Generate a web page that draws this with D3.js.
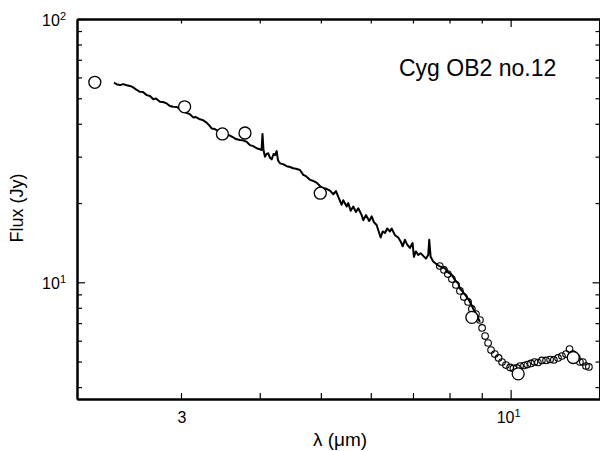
<!DOCTYPE html>
<html>
<head>
<meta charset="utf-8">
<script src="https://cdn.jsdelivr.net/npm/d3@7"></script>
<style>
  body { margin: 0; background: #fff; }
  svg text { font-family: "Liberation Sans", Arial, Helvetica, sans-serif; fill: #000; }
</style>
</head>
<body>
<div id="chart"></div>
<script>
// spectrum (solid line), wavelength in micron, flux in Jy
const lineWave = [2.349,2.375,2.401,2.428,2.461,2.490,2.520,2.545,2.583,2.611,2.647,2.679,2.711,2.738,2.778,2.809,2.847,2.881,2.916,2.956,
  2.989,3.022,3.062,3.099,3.137,3.168,3.215,3.250,3.294,3.322,3.355,3.396,3.433,3.458,3.496,3.544,3.587,3.631,3.667,3.721,
  3.762,3.813,3.859,3.906,3.955,3.989,4.026,4.040,4.055,4.077,4.100,4.127,4.152,4.178,4.206,4.229,4.255,4.275,4.306,4.354,
  4.413,4.467,4.521,4.566,4.633,4.689,4.736,4.805,4.858,4.924,4.984,5.044,5.113,5.169,
  5.232,5.284,5.329,5.395,5.426,5.494,5.527,5.575,5.628,5.684,5.732,5.804,5.838,5.895,5.967,6.020,6.071,6.130,6.166,6.221,
  6.266,6.319,6.372,6.435,6.475,6.554,6.633,6.692,6.741,6.797,6.854,6.922,6.990,7.024,7.075,7.136,7.199,7.267,7.339,7.401,
  7.428,7.466,7.537,7.631,7.724,7.867,7.961,8.061,8.159,8.258,
  8.307,8.399,8.513,8.585,8.670,8.727,8.775,8.840,8.882,8.937];
const lineFlux = [57.3,56.4,56.1,56.6,56.0,55.7,55.0,54.0,52.9,52.8,51.4,51.0,49.6,49.9,48.5,48.4,47.8,46.7,46.4,46.3,
  45.4,44.7,44.0,43.5,42.3,42.4,41.6,41.3,40.4,39.6,38.4,38.2,37.6,37.0,36.9,36.3,36.1,35.5,35.0,34.7,
  34.6,34.2,33.2,32.9,32.3,32.1,31.8,36.6,31.8,30.0,30.7,30.9,29.7,29.3,30.7,30.4,31.5,29.1,28.3,28.1,
  27.6,27.4,27.1,27.0,26.7,25.6,25.3,24.5,24.3,23.9,23.2,22.8,22.6,22.3,
  21.6,22.2,21.1,19.7,20.5,19.4,20.0,18.7,19.4,18.5,19.1,18.0,17.2,18.0,17.1,17.8,16.9,16.5,15.8,14.8,
  15.6,15.4,16.0,15.6,16.0,15.1,14.8,14.3,13.7,14.5,13.9,13.5,14.1,12.5,13.1,12.7,12.9,12.6,12.3,12.7,
  14.5,12.5,12.0,11.7,11.5,11.3,10.9,10.7,10.2,9.91,
  9.49,9.19,8.82,8.57,8.20,7.92,7.73,7.51,7.30,7.07];

// mid-IR spectrum samples (small open circles)
const sampWave = [7.72,7.84,7.95,8.07,8.19,8.31,8.43,8.56,8.68,8.81,8.94,9.01,9.11,9.21,9.31,9.44,9.57,9.69,9.83,9.98,
  10.10,10.23,10.35,10.50,10.63,10.77,10.91,11.05,11.21,11.38,11.55,11.71,11.89,12.06,12.24,12.40,12.56,12.74,12.88,13.02,
  13.17,13.31];
const sampFlux = [11.53,11.14,10.75,10.29,9.77,9.27,8.79,8.42,7.92,7.58,7.19,6.71,6.25,5.88,5.53,5.34,5.16,4.98,4.85,4.75,
  4.71,4.73,4.81,4.83,4.87,4.92,4.98,4.96,5.05,5.05,5.09,5.07,5.16,5.25,5.34,5.58,5.34,5.16,4.98,4.98,
  4.81,4.77];

// photometry (large open circles)
const photWave = [2.19,3.04,3.49,3.79,4.99,8.68,10.28,12.57];
const photFlux = [57.5,46.4,36.6,36.9,21.8,7.36,4.49,5.18];

const xMinor = [3,4,5,6,7,8,9];
const xMajor = [10];
const yMinor = [4,5,6,7,8,9,20,30,40,50,60,70,80,90];
const yMajor = [10,100];
const xLabels = [{v: 3, base: "3", sup: ""}, {v: 10, base: "10", sup: "1"}];
const yLabels = [{v: 100, base: "10", sup: "2"}, {v: 10, base: "10", sup: "1"}];

const W = 600, H = 451;
const L = 77, T = 19, R = 600, B = 399;

const svg = d3.select("#chart").append("svg")
  .attr("width", W).attr("height", H);

const x = d3.scaleLog().domain([2.052, 13.86]).range([L, R]);
const y = d3.scaleLog().domain([3.604, 100]).range([B, T]);

// axes, ticks pointing inward
function styleAxis(g) {
  g.selectAll(".domain").attr("stroke", "#000").attr("stroke-width", 2);
  g.selectAll(".tick line").attr("stroke", "#000").attr("stroke-width", 1.2);
  g.selectAll(".tick text").remove();
}
svg.append("g").attr("transform", `translate(0,${B})`)
  .call(d3.axisBottom(x).tickValues(xMinor).tickSize(-6).tickSizeOuter(0)).call(styleAxis);
svg.append("g").attr("transform", `translate(0,${B})`)
  .call(d3.axisBottom(x).tickValues(xMajor).tickSize(-9).tickSizeOuter(0)).call(styleAxis);
svg.append("g").attr("transform", `translate(0,${T})`)
  .call(d3.axisTop(x).tickValues(xMinor).tickSize(-4.5).tickSizeOuter(0)).call(styleAxis);
svg.append("g").attr("transform", `translate(0,${T})`)
  .call(d3.axisTop(x).tickValues(xMajor).tickSize(-8).tickSizeOuter(0)).call(styleAxis);
svg.append("g").attr("transform", `translate(${L},0)`)
  .call(d3.axisLeft(y).tickValues(yMinor).tickSize(-5).tickSizeOuter(0)).call(styleAxis);
svg.append("g").attr("transform", `translate(${L},0)`)
  .call(d3.axisLeft(y).tickValues(yMajor).tickSize(-8).tickSizeOuter(0)).call(styleAxis);
svg.append("g").attr("transform", `translate(${R - 0.5},0)`)
  .call(d3.axisRight(y).tickValues(yMinor).tickSize(-4).tickSizeOuter(0)).call(styleAxis);
svg.append("g").attr("transform", `translate(${R - 0.5},0)`)
  .call(d3.axisRight(y).tickValues(yMajor).tickSize(-7).tickSizeOuter(0)).call(styleAxis);

// tick labels with superscripts
xLabels.forEach(function(d) {
  const t = svg.append("text")
    .attr("x", x(d.v) + (d.sup ? -2 : 1)).attr("y", 423)
    .attr("text-anchor", "middle").style("font-size", "16px");
  t.append("tspan").text(d.base);
  if (d.sup) t.append("tspan").attr("dy", -6).style("font-size", "11px").text(d.sup);
});
yLabels.forEach(function(d) {
  const t = svg.append("text")
    .attr("x", 66).attr("y", y(d.v) + 7)
    .attr("text-anchor", "end").style("font-size", "16px");
  t.append("tspan").text(d.base);
  t.append("tspan").attr("dy", -6).style("font-size", "11px").text(d.sup);
});

// axis titles
svg.append("text")
  .attr("transform", "translate(23,208) rotate(-90)")
  .attr("text-anchor", "middle").style("font-size", "18px")
  .text("Flux (Jy)");
svg.append("text")
  .attr("x", 340).attr("y", 446)
  .attr("text-anchor", "middle").style("font-size", "19px")
  .text("λ (μm)");

svg.append("text")
  .attr("x", 399).attr("y", 76)
  .style("font-size", "23px")
  .text("Cyg OB2 no.12");

// small circles (under the line)
svg.append("g").selectAll("circle")
  .data(sampWave.map((w, i) => [w, sampFlux[i]]))
  .enter().append("circle")
  .attr("cx", d => x(d[0])).attr("cy", d => y(d[1]))
  .attr("r", 3.3)
  .attr("fill", "none").attr("stroke", "#000").attr("stroke-width", 1.1);

// spectrum line
const lineData = lineWave.map((w, i) => [w, lineFlux[i]]);
svg.append("path")
  .datum(lineData)
  .attr("fill", "none")
  .attr("stroke", "#000")
  .attr("stroke-width", 2)
  .attr("stroke-linejoin", "round")
  .attr("d", d3.line().x(d => x(d[0])).y(d => y(d[1])));

// large circles
svg.append("g").selectAll("circle")
  .data(photWave.map((w, i) => [w, photFlux[i]]))
  .enter().append("circle")
  .attr("cx", d => x(d[0])).attr("cy", d => y(d[1]))
  .attr("r", 6)
  .attr("fill", "#fff").attr("stroke", "#000").attr("stroke-width", 1.3);
</script>
</body>
</html>
